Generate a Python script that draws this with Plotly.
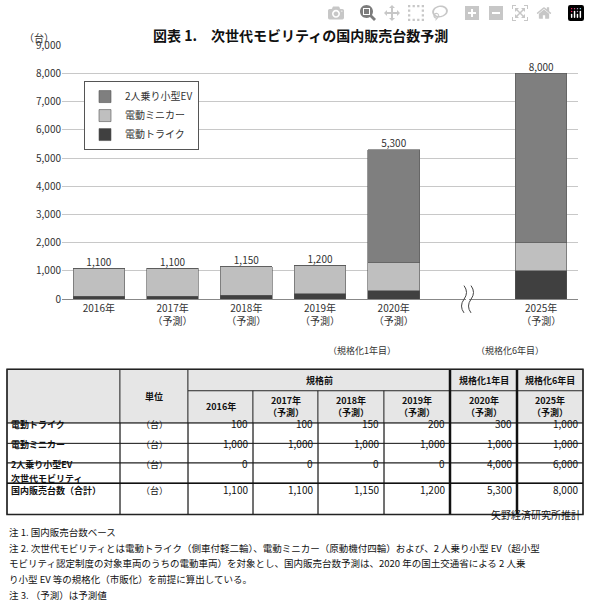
import plotly.graph_objects as go

W, H = 590, 615
def X(px): return px / W
def Y(py): return 1 - py / H

categories = ["2016", "2017", "2018", "2019", "2020", "gap", "2025"]
tick_labels = ["2016年", "2017年<br>（予測）", "2018年<br>（予測）", "2019年<br>（予測）",
               "2020年<br>（予測）", "", "2025年<br>（予測）"]
trike = [100, 100, 150, 200, 300, None, 1000]
minicar = [1000, 1000, 1000, 1000, 1000, None, 1000]
ev2 = [0, 0, 0, 0, 4000, None, 6000]
totals = [1100, 1100, 1150, 1200, 5300, None, 8000]
series_names = ["電動トライク", "電動ミニカー", "2人乗り小型EV"]
series_colors = ["#404040", "#bfbfbf", "#7f7f7f"]

table_years = ["2016年", "2017年<br>（予測）", "2018年<br>（予測）", "2019年<br>（予測）",
               "2020年<br>（予測）", "2025年<br>（予測）"]
table_rows = ["電動トライク", "電動ミニカー", "2人乗り小型EV", "次世代モビリティ<br>国内販売台数（合計）"]
table_vals = [
    [100, 100, 150, 200, 300, 1000],
    [1000, 1000, 1000, 1000, 1000, 1000],
    [0, 0, 0, 0, 4000, 6000],
    [1100, 1100, 1150, 1200, 5300, 8000],
]
notes = [
    "注 1. 国内販売台数ベース",
    "注 2. 次世代モビリティとは電動トライク（側車付軽二輪）、電動ミニカー（原動機付四輪）および、2 人乗り小型 EV（超小型",
    "モビリティ認定制度の対象車両のうちの電動車両）を対象とし、国内販売台数予測は、2020 年の国土交通省による 2 人乗",
    "り小型 EV 等の規格化（市販化）を前提に算出している。",
    "注 3. （予測）は予測値",
]

FONT = "Noto Sans CJK JP"
fig = go.Figure()
for vals, name, col in zip([trike, minicar, ev2], series_names, series_colors):
    fig.add_trace(go.Bar(x=categories, y=vals, name=name, marker_color=col,
                         marker_line=dict(color="#555", width=0.6), width=0.7))
fig.add_trace(go.Scatter(x=categories, y=totals, mode="text",
                         text=[f"{v:,}" if v else "" for v in totals],
                         textposition="top center", textfont=dict(size=10, color="#333"),
                         showlegend=False, hoverinfo="skip"))

fig.update_layout(
    width=W, height=H, margin=dict(l=0, r=0, t=0, b=0),
    paper_bgcolor="white", plot_bgcolor="white", barmode="stack",
    font=dict(family=FONT, size=10, color="#333"),
    xaxis=dict(domain=[X(62), X(578)], tickmode="array", tickvals=categories,
               ticktext=tick_labels, showline=True, linecolor="#888", ticks="",
               tickfont=dict(size=10)),
    yaxis=dict(domain=[Y(298), Y(37)], range=[0, 9000], dtick=1000, tickformat=",",
               gridcolor="#c8c8c8", showline=False, ticks="", tickfont=dict(size=10)),
    legend=dict(x=X(84), y=Y(74), xanchor="left", yanchor="top", traceorder="reversed",
                bordercolor="#555", borderwidth=1, font=dict(size=10), itemwidth=30,
                tracegroupgap=8, bgcolor="white"),
    showlegend=True,
)

ann = []
shapes = []
ann.append(dict(x=X(300), y=Y(14), text="<b>図表 1.　次世代モビリティの国内販売台数予測</b>",
                showarrow=False, font=dict(size=14, color="#111"), xref="paper", yref="paper"))
ann.append(dict(x=X(22), y=Y(20), text="（台）", showarrow=False, font=dict(size=10),
                xref="paper", yref="paper"))
ann.append(dict(x=X(398), y=Y(351), text="（規格化1年目）", showarrow=False, font=dict(size=9),
                xref="paper", yref="paper"))
ann.append(dict(x=X(546), y=Y(351), text="（規格化6年目）", showarrow=False, font=dict(size=9),
                xref="paper", yref="paper"))
for dx in (0, 7):
    x0 = 464 + dx
    shapes.append(dict(type="path", xref="paper", yref="paper",
                       path=f"M {X(x0)},{Y(284)} Q {X(x0+5)},{Y(291)} {X(x0)},{Y(298)} T {X(x0)},{Y(312)}",
                       line=dict(color="#444", width=1)))
shapes.append(dict(type="rect", xref="paper", yref="paper", x0=X(466), x1=X(469),
                   y0=Y(296), y1=Y(300), fillcolor="white", line=dict(width=0)))

cols = [7, 120, 188, 253, 318, 384, 450, 517, 583]
rows = [370, 392, 425, 446, 466, 487, 519]
gray = "#e6e6e6"
def rect(x0, x1, y0, y1, fill=None, w=0.8):
    shapes.append(dict(type="rect", xref="paper", yref="paper", x0=X(x0), x1=X(x1),
                       y0=Y(y1), y1=Y(y0), fillcolor=fill or "rgba(0,0,0,0)",
                       line=dict(color="#222", width=w), layer="below" if fill else "above"))
def text(x, y, t, anchor="center", size=10, bold=False):
    ann.append(dict(x=X(x), y=Y(y), text=f"<b>{t}</b>" if bold else t, showarrow=False,
                    xanchor=anchor, align=anchor if anchor != "center" else "center",
                    font=dict(size=size, color="#111"), xref="paper", yref="paper"))

rect(cols[0], cols[1], rows[0], rows[2], gray)
rect(cols[1], cols[2], rows[0], rows[2], gray)
rect(cols[2], cols[6], rows[0], rows[1], gray)
rect(cols[6], cols[7], rows[0], rows[1], gray)
rect(cols[7], cols[8], rows[0], rows[1], gray)
for i, yr in enumerate(table_years):
    rect(cols[2 + i], cols[3 + i], rows[1], rows[2], gray)
    text((cols[2 + i] + cols[3 + i]) / 2, (rows[1] + rows[2]) / 2, yr, size=9, bold=True)
text((cols[1] + cols[2]) / 2, (rows[0] + rows[2]) / 2, "単位", size=9, bold=True)
text((cols[2] + cols[6]) / 2, (rows[0] + rows[1]) / 2, "規格前", size=9, bold=True)
text((cols[6] + cols[7]) / 2, (rows[0] + rows[1]) / 2, "規格化1年目", size=9, bold=True)
text((cols[7] + cols[8]) / 2, (rows[0] + rows[1]) / 2, "規格化6年目", size=9, bold=True)
for r, (lab, vals) in enumerate(zip(table_rows, table_vals)):
    y0, y1 = rows[2 + r], rows[3 + r]
    ym = (y0 + y1) / 2
    rect(cols[0], cols[1], y0, y1)
    rect(cols[1], cols[2], y0, y1)
    text(cols[0] + 2, ym, lab, anchor="left", size=9, bold=True)
    text((cols[1] + cols[2]) / 2, ym, "（台）", size=9)
    for i, v in enumerate(vals):
        rect(cols[2 + i], cols[3 + i], y0, y1)
        text(cols[3 + i] - 3, ym, f"{v:,}", anchor="right", size=10)
for xc in (cols[6], cols[7]):
    shapes.append(dict(type="line", xref="paper", yref="paper", x0=X(xc), x1=X(xc),
                       y0=Y(rows[0]), y1=Y(rows[-1]), line=dict(color="#111", width=2.5)))
rect(cols[0], cols[8], rows[0], rows[-1], w=1.5)
shapes.append(dict(type="line", xref="paper", yref="paper", x0=X(cols[0]), x1=X(cols[8]),
                   y0=Y(rows[5]), y1=Y(rows[5]), line=dict(color="#111", width=1.5)))

text(583, 529, "矢野経済研究所推計", anchor="right", size=10)
for i, n in enumerate(notes):
    text(7, 546 + i * 16.2, n, anchor="left", size=9.5)

fig.update_layout(annotations=ann, shapes=shapes)
fig.write_html("out.html", post_script="document.body.style.margin='0';document.body.style.overflow='hidden';")
